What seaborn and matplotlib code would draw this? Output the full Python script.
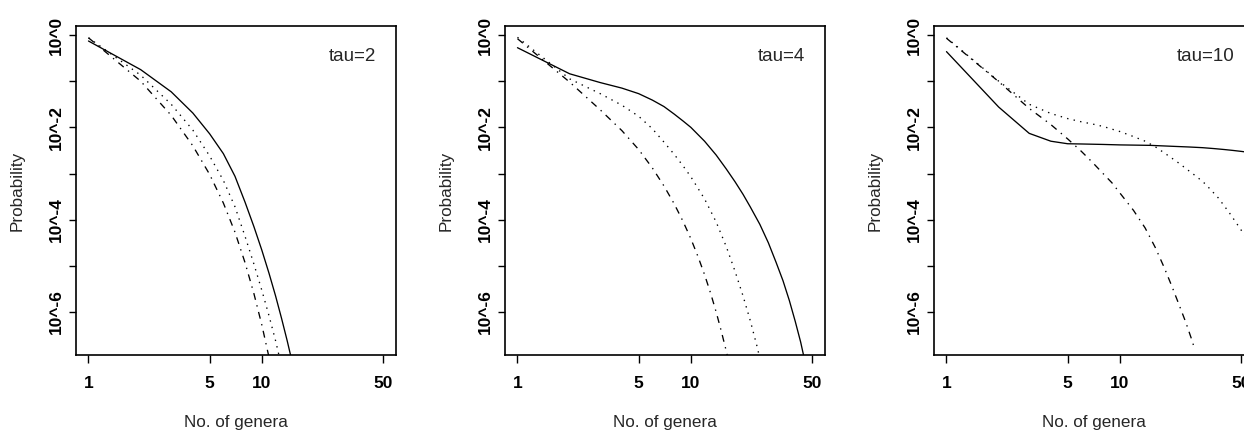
import matplotlib
matplotlib.use("Agg")
import matplotlib.pyplot as plt
from matplotlib.ticker import FixedLocator, NullLocator, NullFormatter
import pandas as pd
import seaborn as sns

# Number of genera (x) and log10(probability) (y)
TAUS = [2, 4, 10]

TAU2_SOLID_X = [1, 2, 3, 4, 5, 6, 7, 8, 9, 10, 11, 12, 13, 14, 15]
TAU2_SOLID_LOG = [-0.13, -0.75, -1.23, -1.69, -2.14, -2.57, -3.06, -3.62, -4.15,
                  -4.66, -5.16, -5.65, -6.14, -6.62, -7.10]
TAU2_DOTTED_X = [1, 2, 3, 4, 5, 6, 7, 8, 9, 10, 11, 12, 13]
TAU2_DOTTED_LOG = [-0.06, -0.87, -1.50, -2.06, -2.62, -3.15, -3.72, -4.36, -4.96,
                   -5.53, -6.08, -6.62, -7.18]
TAU2_DASHDOT_X = [1, 2, 3, 4, 5, 6, 7, 8, 9, 10, 11, 12]
TAU2_DASHDOT_LOG = [-0.06, -1.00, -1.74, -2.40, -3.02, -3.64, -4.27, -4.93, -5.60,
                    -6.28, -6.98, -7.70]

TAU4_SOLID_X = [1, 2, 3, 4, 5, 6, 7, 8, 9, 10, 12, 14, 16, 18, 20, 22, 25, 28,
                31, 34, 37, 40, 43, 46]
TAU4_SOLID_LOG = [-0.275, -0.84, -1.03, -1.15, -1.27, -1.41, -1.55, -1.71, -1.86,
                  -2.00, -2.30, -2.60, -2.90, -3.18, -3.45, -3.72, -4.10, -4.50,
                  -4.92, -5.32, -5.75, -6.20, -6.65, -7.15]
TAU4_DOTTED_X = [1, 2, 3, 4, 5, 6, 7, 8, 9, 10, 12, 14, 16, 18, 20, 22, 24, 26]
TAU4_DOTTED_LOG = [-0.05, -0.95, -1.27, -1.52, -1.76, -2.03, -2.32, -2.58, -2.83,
                   -3.07, -3.55, -4.05, -4.58, -5.12, -5.65, -6.18, -6.72, -7.27]
TAU4_DASHDOT_X = [1, 2, 3, 4, 5, 6, 7, 8, 9, 10, 11, 12, 13, 14, 15, 16, 17]
TAU4_DASHDOT_LOG = [-0.08, -1.02, -1.62, -2.07, -2.48, -2.88, -3.27, -3.65, -4.03,
                    -4.41, -4.80, -5.19, -5.59, -6.00, -6.42, -6.84, -7.27]

TAU10_SOLID_X = [1, 2, 3, 4, 5, 6, 8, 10, 15, 20, 25, 30, 35, 40, 45, 50, 55, 60]
TAU10_SOLID_LOG = [-0.36, -1.56, -2.13, -2.30, -2.355, -2.36, -2.37, -2.38, -2.39,
                   -2.41, -2.425, -2.44, -2.46, -2.48, -2.50, -2.52, -2.54, -2.56]
TAU10_DOTTED_X = [1, 2, 3, 4, 5, 6, 7, 8, 10, 12, 14, 16, 18, 20, 22, 25, 28, 31,
                  34, 37, 40, 43, 46, 50, 55, 60]
TAU10_DOTTED_LOG = [-0.06, -1.00, -1.50, -1.70, -1.81, -1.88, -1.93, -1.98, -2.09,
                    -2.20, -2.30, -2.42, -2.55, -2.67, -2.78, -2.94, -3.08, -3.22,
                    -3.38, -3.53, -3.70, -3.86, -4.02, -4.22, -4.46, -4.70]
TAU10_DASHDOT_X = [1, 2, 3, 4, 5, 6, 7, 8, 9, 10, 12, 14, 16, 18, 20, 22, 24, 26, 27]
TAU10_DASHDOT_LOG = [-0.07, -1.01, -1.59, -1.94, -2.25, -2.52, -2.77, -3.00, -3.20,
                     -3.42, -3.80, -4.18, -4.60, -5.03, -5.45, -5.85, -6.22, -6.60,
                     -6.80]

XTICKS = [1, 5, 10, 50]
XTICK_LABELS = ["1", "5", "10", "50"]
YTICKS = [1, 1e-2, 1e-4, 1e-6]
YTICK_LABELS = ["10^0", "10^-2", "10^-4", "10^-6"]
YMINOR = [1e-1, 1e-3, 1e-5]

DASHES = {"solid": "", "dotted": (1, 3.8), "dashdot": (5, 4, 1, 4)}


def build_frame():
    panels = {
        2: {"solid": (TAU2_SOLID_X, TAU2_SOLID_LOG),
            "dotted": (TAU2_DOTTED_X, TAU2_DOTTED_LOG),
            "dashdot": (TAU2_DASHDOT_X, TAU2_DASHDOT_LOG)},
        4: {"solid": (TAU4_SOLID_X, TAU4_SOLID_LOG),
            "dotted": (TAU4_DOTTED_X, TAU4_DOTTED_LOG),
            "dashdot": (TAU4_DASHDOT_X, TAU4_DASHDOT_LOG)},
        10: {"solid": (TAU10_SOLID_X, TAU10_SOLID_LOG),
             "dotted": (TAU10_DOTTED_X, TAU10_DOTTED_LOG),
             "dashdot": (TAU10_DASHDOT_X, TAU10_DASHDOT_LOG)},
    }
    rows = []
    for tau, series in panels.items():
        for name, (xs, logs) in series.items():
            for x, lp in zip(xs, logs):
                rows.append({"tau": tau, "series": name, "genera": x, "prob": 10 ** lp})
    return pd.DataFrame(rows)


def style_axes(ax, tau):
    ax.set_xscale("log")
    ax.set_yscale("log")
    ax.set_xlim(10 ** -0.072, 10 ** 1.771)
    ax.set_ylim(10 ** -6.93, 10 ** 0.195)

    ax.set_xticks(XTICKS, labels=XTICK_LABELS)
    ax.xaxis.set_minor_locator(NullLocator())
    ax.set_yticks(YTICKS, labels=YTICK_LABELS)
    ax.yaxis.set_minor_locator(FixedLocator(YMINOR))
    ax.yaxis.set_minor_formatter(NullFormatter())

    ax.tick_params(which="both", direction="out", length=5.4, width=1.0,
                   colors="black", top=False, right=False)
    ax.tick_params(axis="x", pad=10, labelsize=12.5)
    ax.tick_params(axis="y", pad=3.5, labelsize=12.5)
    for lab in ax.get_xticklabels() + ax.get_yticklabels():
        lab.set_fontweight("bold")
    for lab in ax.get_yticklabels():
        lab.set_rotation(90)
        lab.set_va("center")

    for s in ax.spines.values():
        s.set_visible(True)
        s.set_linewidth(1.2)
        s.set_color("black")

    ax.set_xlabel("No. of genera", fontsize=12.3)
    ax.xaxis.set_label_coords(0.5, -0.219)
    ax.xaxis.label.set_va("baseline")
    ax.set_ylabel("Probability", fontsize=12.3)
    ax.yaxis.set_label_coords(-0.183, 0.5)
    ax.yaxis.label.set_va("center")

    ax.text(0.939, 0.8936, f"tau={tau}", transform=ax.transAxes,
            ha="right", va="baseline", fontsize=13.5)


def main():
    df = build_frame()

    sns.set_style("ticks")
    plt.rcParams["font.family"] = ["Liberation Sans", "DejaVu Sans"]
    plt.rcParams["lines.scale_dashes"] = False

    fig = plt.figure(figsize=(12.44, 4.30), dpi=100)
    lefts = [76, 505, 934]
    for left, tau in zip(lefts, TAUS):
        ax = fig.add_axes([left / 1244, 75 / 430, 319.5 / 1244, 329 / 430])
        sub = df[df["tau"] == tau]
        sns.lineplot(data=sub, x="genera", y="prob", style="series",
                     style_order=["solid", "dotted", "dashdot"], dashes=DASHES,
                     color="black", linewidth=0.95, estimator=None, sort=True,
                     legend=False, ax=ax)
        style_axes(ax, tau)

    fig.savefig("out.png", dpi=100)
    plt.close(fig)


if __name__ == "__main__":
    main()
